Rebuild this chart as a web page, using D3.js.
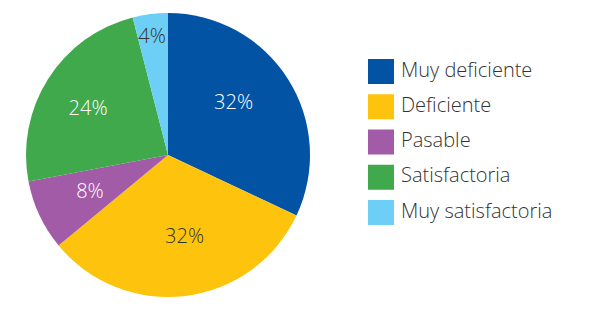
<!DOCTYPE html>
<html>
<head>
<meta charset="utf-8">
<script src="https://cdn.jsdelivr.net/npm/d3@7"></script>
<style>
  html, body { margin: 0; padding: 0; background: #fff; }
  svg { display: block; }
  text { font-family: "Open Sans", "Noto Sans", sans-serif; font-weight: 350; }
</style>
</head>
<body>
<svg id="chart" width="600" height="327"></svg>
<script>
// Survey rating distribution
const categories = ["Muy deficiente", "Deficiente", "Pasable", "Satisfactoria", "Muy satisfactoria"];
const values = [32, 32, 8, 24, 4];
const colors = ["#0353a4", "#fec40d", "#a25ba6", "#40a94b", "#6dcff6"];
const labelColors = ["#ffffff", "#333333", "#ffffff", "#ffffff", "#333333"];

const data = categories.map((c, i) => ({ category: c, value: values[i], i }));

const svg = d3.select("#chart");
const cx = 168, cy = 155, radius = 142;

const pie = d3.pie().value(d => d.value).sort(null);
const arcs = pie(data);
const arc = d3.arc().innerRadius(0).outerRadius(radius);

const g = svg.append("g").attr("transform", `translate(${cx},${cy})`);

g.selectAll("path.slice")
  .data(arcs)
  .join("path")
  .attr("class", "slice")
  .attr("d", arc)
  .attr("fill", d => colors[d.data.i]);

// label placement per slice: distance from centre and angular nudge (degrees)
const labelRadius = [84, 83, 86, 93, 120];
const labelNudge = [-6.3, -4.3, 0.4, -1.7, -0.4];
g.selectAll("text.pct")
  .data(arcs)
  .join("text")
  .attr("class", "pct")
  .attr("transform", d => {
    const a = (d.startAngle + d.endAngle) / 2 + labelNudge[d.data.i] * Math.PI / 180;
    const r = labelRadius[d.data.i];
    return `translate(${Math.sin(a) * r},${-Math.cos(a) * r})`;
  })
  .attr("text-anchor", "middle")
  .attr("dy", "0.35em")
  .attr("font-size", 20)
  .attr("fill", d => labelColors[d.data.i])
  .text(d => d.data.value + "%");

// legend
const legendY = d3.scalePoint().domain(categories).range([59, 200]);
const legend = svg.append("g");
const items = legend.selectAll("g.item")
  .data(data)
  .join("g")
  .attr("class", "item")
  .attr("transform", d => `translate(368,${legendY(d.category)})`);

items.append("rect")
  .attr("width", 26)
  .attr("height", 25)
  .attr("fill", d => colors[d.i]);

items.append("text")
  .attr("x", 33)
  .attr("y", 17.5)
  .attr("font-size", 20)
  .attr("fill", "#333333")
  .text(d => d.category);
</script>
</body>
</html>
